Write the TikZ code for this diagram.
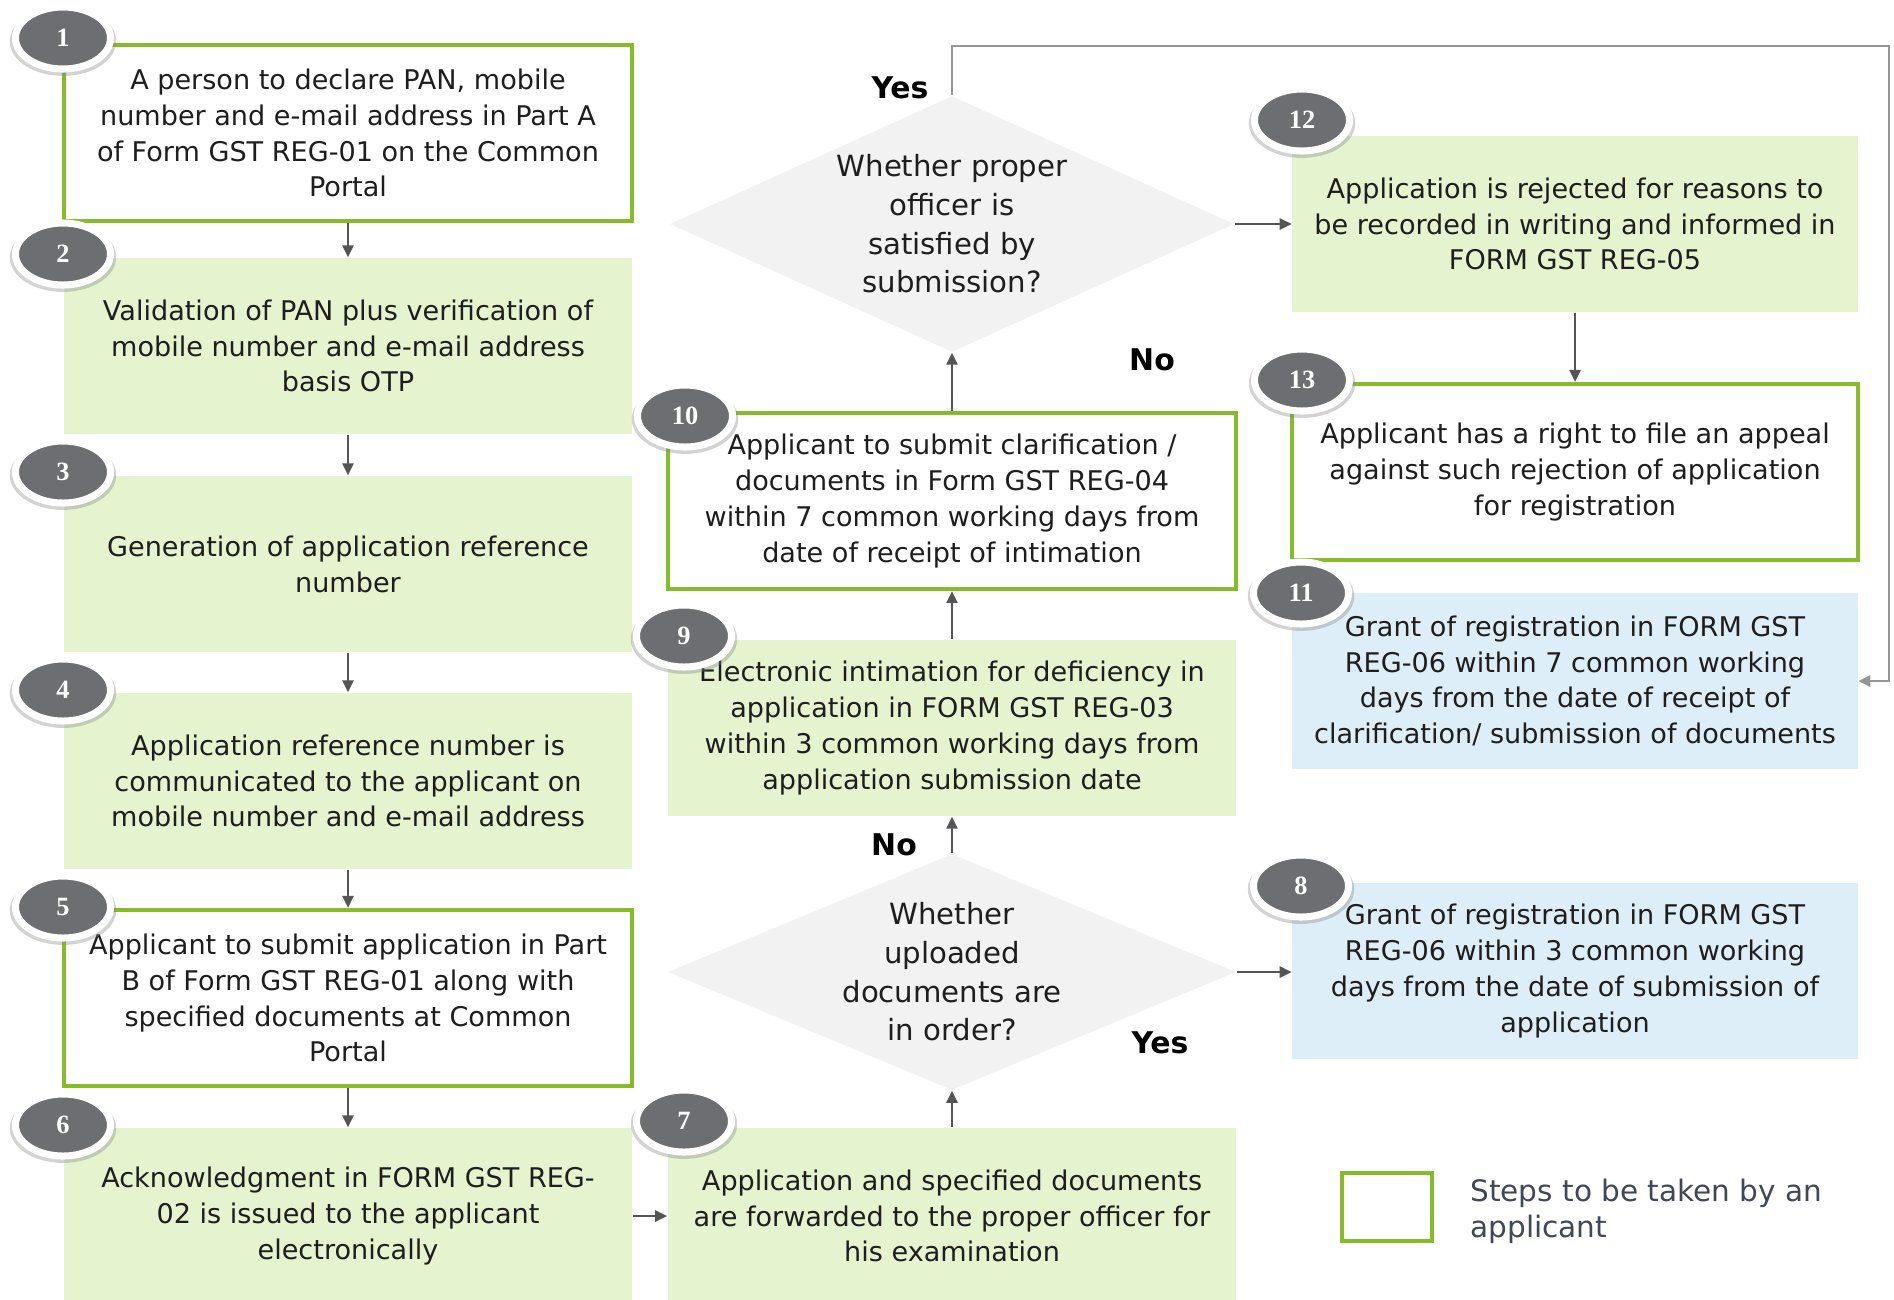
\documentclass[tikz,border=0pt]{standalone}
\usepackage{fontspec}
\setmainfont{DejaVu Sans}
\newfontfamily\numfont{Liberation Serif}
\usetikzlibrary{shapes.geometric,arrows.meta,shadows}
\definecolor{gstgreen}{RGB}{134,188,37}
\definecolor{lgreen}{RGB}{229,243,206}
\definecolor{lblue}{RGB}{221,238,249}
\definecolor{qgray}{RGB}{242,242,242}
\definecolor{bgray}{RGB}{109,110,113}
\definecolor{agray}{RGB}{85,85,85}
\definecolor{lgray}{RGB}{150,150,150}
\definecolor{txt}{RGB}{30,30,30}
\definecolor{keytxt}{RGB}{64,72,88}
\begin{document}
\begin{tikzpicture}[x=0.01cm,y=-0.01cm,
  every node/.style={font=\fontsize{7.7}{10.2}\selectfont,text=txt,align=center},
  box/.style={rectangle,minimum width=5.68cm,minimum height=1.76cm,inner sep=0pt,fill=lgreen},
  userbox/.style={box,fill=white,draw=gstgreen,line width=1.2pt},
  bluebox/.style={box,fill=lblue},
  query/.style={diamond,fill=qgray,inner sep=0pt},
  qtext/.style={font=\fontsize{8.3}{11}\selectfont},
  badge/.style={ellipse,fill=bgray,draw=white,line width=2pt,minimum width=0.95cm,minimum height=0.62cm,inner sep=0pt,
    drop shadow={shadow scale=1.12,shadow xshift=0pt,shadow yshift=-0.8pt,opacity=0.35},
    font=\numfont\bfseries\fontsize{7.5}{8}\selectfont,text=white},
  arr/.style={draw=agray,line width=0.55pt,-{Triangle[length=3.4pt,width=3.2pt]}},
  yn/.style={font=\bfseries\fontsize{8.5}{10}\selectfont,text=black}]
\useasboundingbox (0,0) rectangle (1894,1299);

% left column
\node[userbox] (b1) at (348,133) {A person to declare PAN, mobile\\number and e-mail address in Part A\\of Form GST REG-01 on the Common\\Portal};
\node[box] (b2) at (348,346) {Validation of PAN plus verification of\\mobile number and e-mail address\\basis OTP};
\node[box] (b3) at (348,564) {Generation of application reference\\number};
\node[box] (b4) at (348,781) {Application reference number is\\communicated to the applicant on\\mobile number and e-mail address};
\node[userbox] (b5) at (348,998) {Applicant to submit application in Part\\B of Form GST REG-01 along with\\specified documents at Common\\Portal};
\node[box] (b6) at (348,1216) {Acknowledgment in FORM GST REG-\\02 is issued to the applicant\\electronically};

% middle column
\node[box] (b7) at (952,1216) {Application and specified documents\\are forwarded to the proper officer for\\his examination};
\node[query,minimum width=5.68cm,minimum height=2.36cm] (d1) at (952,972) {};
\node[qtext] (d1t) at (d1.center) {Whether\\uploaded\\documents are\\in order?};
\node[box] (b9) at (952,728) {Electronic intimation for deficiency in\\application in FORM GST REG-03\\within 3 common working days from\\application submission date};
\node[userbox] (b10) at (952,501) {Applicant to submit clarification /\\documents in Form GST REG-04\\within 7 common working days from\\date of receipt of intimation};
\node[query,minimum width=5.64cm,minimum height=2.56cm] (d2) at (952,224) {};
\node[qtext] (d2t) at (d2.center) {Whether proper\\officer is\\satisfied by\\submission?};

% right column
\node[box,minimum width=5.65cm] (b12) at (1575,224) {Application is rejected for reasons to\\be recorded in writing and informed in\\FORM GST REG-05};
\node[userbox,minimum width=5.65cm] (b13) at (1575,472) {Applicant has a right to file an appeal\\against such rejection of application\\for registration};
\node[bluebox,minimum width=5.65cm] (b11) at (1575,681) {Grant of registration in FORM GST\\REG-06 within 7 common working\\days from the date of receipt of\\clarification/ submission of documents};
\node[bluebox,minimum width=5.65cm] (b8) at (1575,971) {Grant of registration in FORM GST\\REG-06 within 3 common working\\days from the date of submission of\\application};

% connectors
\foreach \a/\b in {b1/b2,b2/b3,b3/b4,b4/b5,b5/b6,b12/b13}
  \draw[arr] (\a.south) -- (\b.north);
\draw[arr] (b6.east) -- (b7.west);
\draw[arr] (b7.north) -- (d1.south);
\draw[arr] (d1.north) -- (b9.south);
\draw[arr] (d1.east) -- (d1.east -| b8.west);
\draw[arr] (b9.north) -- (b10.south);
\draw[arr] (b10.north) -- (d2.south);
\draw[arr] (d2.east) -- (d2.east -| b12.west);
\coordinate (loop) at (1889,46);
\draw[arr,draw=lgray,line width=0.8pt] (d2.north) |- (loop) |- (b11.east);

\node[yn] (y1) at (900,88) {Yes};
\node[yn] (n1) at (1152,360) {No};
\node[yn] (n2) at (894,845) {No};
\node[yn] (y2) at (1160,1043) {Yes};

% step numbers
\foreach \n/\x/\y in {1/63/38,2/63/254,3/63/472,4/63/690,5/63/907,6/63/1125,
    7/684/1121,9/684/636,10/685/416,12/1302/120,13/1302/380,11/1301/593,8/1301/886}
  \node[badge] (s\n) at (\x,\y) {\n};

% key
\node[userbox,minimum width=0.9cm,minimum height=0.68cm] (key) at (1387,1207) {};
\node[anchor=west,align=left,text=keytxt,font=\fontsize{8.4}{10.3}\selectfont] (keytext) at (1458,1211) {Steps to be taken by an\\applicant};
\end{tikzpicture}
\end{document}
